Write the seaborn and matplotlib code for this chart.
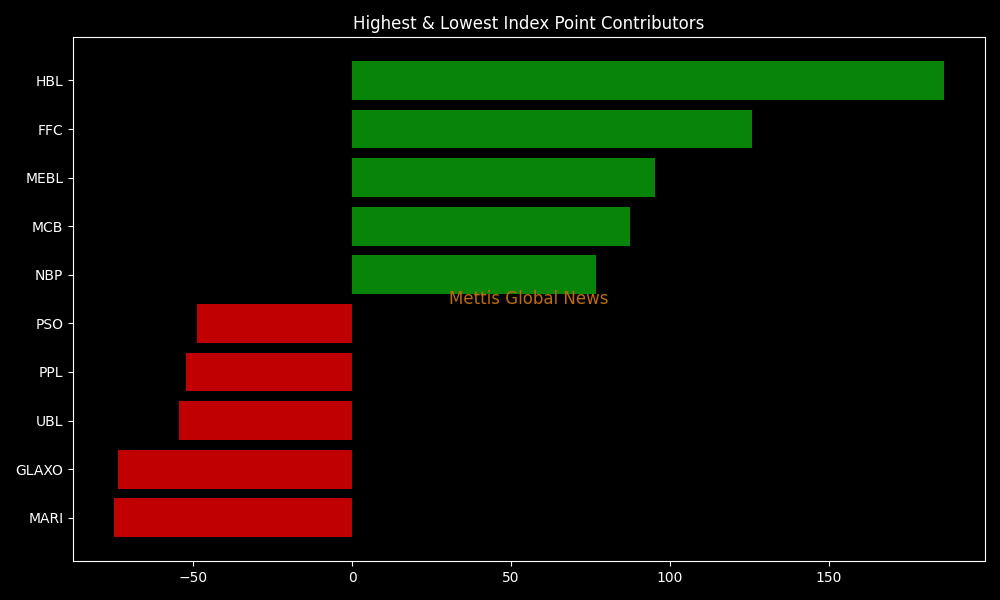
import matplotlib
matplotlib.use("Agg")
import matplotlib.pyplot as plt
import seaborn as sns
import pandas as pd

# data
symbols = ["HBL", "FFC", "MEBL", "MCB", "NBP", "PSO", "PPL", "UBL", "GLAXO", "MARI"]
points = [186.2, 125.8, 95.3, 87.4, 76.7, -48.7, -52.2, -54.4, -73.6, -74.8]

df = pd.DataFrame({"symbol": symbols, "points": points})
df["side"] = ["up" if p > 0 else "down" for p in points]

plt.style.use("dark_background")
fig, ax = plt.subplots(figsize=(10, 6), dpi=100)

sns.barplot(data=df, x="points", y="symbol", hue="side", orient="h",
            palette={"up": "#088408", "down": "#c00000"},
            width=0.8, dodge=False, legend=False, saturation=1, ax=ax)

n = len(symbols)
pad = (n - 0.2) * 0.05
ax.set_ylim(n - 0.6 + pad, -0.4 - pad)
lo, hi = min(points), max(points)
xpad = (hi - lo) * 0.05
ax.set_xlim(lo - xpad, hi + xpad)

ax.set_xlabel("")
ax.set_ylabel("")
ax.set_title("Highest & Lowest Index Point Contributors")
ax.grid(False)

# watermark
ax.text(0.5, 0.5, "Mettis Global News", transform=ax.transAxes,
        ha="center", va="center", fontsize=12, color="#c06a08")

fig.subplots_adjust(left=0.073, right=0.985, top=0.938, bottom=0.065)
fig.savefig("out.png", facecolor="black")
